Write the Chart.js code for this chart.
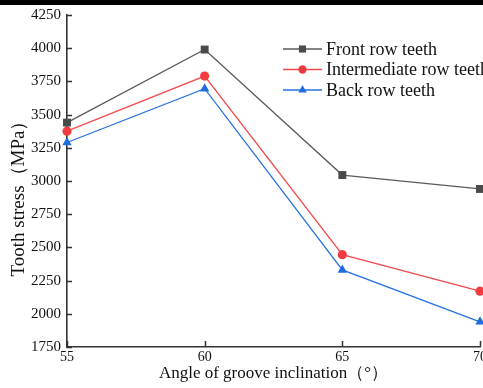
<!DOCTYPE html>
<html>
<head>
<meta charset="utf-8">
<script src="https://cdn.jsdelivr.net/npm/chart.js@4.4.0/dist/chart.umd.min.js"></script>
<style>
  html, body { margin: 0; padding: 0; background: #fff; }
  #wrap { position: relative; width: 483px; height: 388px; overflow: hidden; }
  #band { position: absolute; left: 0; top: 0; width: 483px; height: 5px; background: #000; }
  canvas { display: block; }
</style>
</head>
<body>
<div id="wrap">
  <canvas id="stressChart" width="530" height="388"></canvas>
  <div id="band"></div>
</div>
<script>
// groove inclination angle (deg) and tooth stress (MPa) per row
const angles = [55, 60, 65, 70];
const frontRow = [3440, 3990, 3045, 2940];
const middleRow = [3375, 3790, 2445, 2170];
const backRow = [3290, 3695, 2330, 1940];
const seriesNames = ['Front row teeth', 'Intermediate row teeth', 'Back row teeth'];
const xTitle = 'Angle of groove inclination（°）';
const yTitle = 'Tooth stress（MPa）';

const serif = 'Liberation Serif, Times New Roman, serif';
const axisColor = '#333';

function pairs(values) {
  return angles.map((a, i) => ({ x: a, y: values[i] }));
}

// tick marks pointing into the plot
const innerTicks = {
  id: 'innerTicks',
  beforeDatasetsDraw(chart) {
    const { ctx, chartArea, scales } = chart;
    ctx.save();
    ctx.strokeStyle = axisColor;
    ctx.lineWidth = 1.5;
    ctx.beginPath();
    scales.y.ticks.forEach(t => {
      const py = Math.round(scales.y.getPixelForValue(t.value)) + 0.5;
      ctx.moveTo(chartArea.left, py);
      ctx.lineTo(chartArea.left + 5, py);
    });
    scales.x.ticks.forEach(t => {
      const px = Math.round(scales.x.getPixelForValue(t.value)) + 0.5;
      ctx.moveTo(px, chartArea.bottom);
      ctx.lineTo(px, chartArea.bottom - 6);
    });
    ctx.stroke();
    ctx.restore();
  }
};

// vertical axis title, sitting a bit below the middle of the plot
const sideTitle = {
  id: 'sideTitle',
  afterDraw(chart) {
    const { ctx, chartArea } = chart;
    ctx.save();
    ctx.translate(19, (chartArea.top + chartArea.bottom) / 2 + 13);
    ctx.rotate(-Math.PI / 2);
    ctx.font = '19px ' + serif;
    ctx.fillStyle = '#111';
    ctx.textAlign = 'center';
    ctx.textBaseline = 'middle';
    ctx.fillText(yTitle, 0, 0);
    ctx.restore();
  }
};

// legend with a short line through each marker
const lineLegend = {
  id: 'lineLegend',
  afterDraw(chart) {
    const { ctx, chartArea } = chart;
    const x0 = chartArea.left + 216;
    const y0 = chartArea.top + 34;
    ctx.save();
    ctx.font = '18px ' + serif;
    ctx.textBaseline = 'middle';
    chart.data.datasets.forEach((ds, i) => {
      const y = y0 + i * 20.5;
      ctx.strokeStyle = ds.borderColor;
      ctx.lineWidth = 1.3;
      ctx.beginPath();
      ctx.moveTo(x0, y);
      ctx.lineTo(x0 + 39, y);
      ctx.stroke();
      ctx.fillStyle = ds.pointBackgroundColor;
      Chart.helpers.drawPoint(ctx, {
        pointStyle: ds.pointStyle, rotation: 0,
        radius: ds.pointRadius * 0.9, borderWidth: 0
      }, x0 + 19.5, y);
      ctx.fillStyle = '#111';
      ctx.fillText(ds.label, x0 + 43, y + 1);
    });
    ctx.restore();
  }
};

function series(label, data, line, marker, style, radius) {
  return {
    label,
    data: pairs(data),
    borderColor: line,
    backgroundColor: marker,
    pointBackgroundColor: marker,
    pointBorderWidth: 0,
    pointStyle: style,
    pointRadius: radius,
    borderWidth: 1.3,
    tension: 0,
    clip: false
  };
}

new Chart(document.getElementById('stressChart'), {
  type: 'line',
  data: {
    datasets: [
      series(seriesNames[0], frontRow, '#5a5a5a', '#4a4a4a', 'rect', 5.6),
      series(seriesNames[1], middleRow, '#f24a4d', '#f03c40', 'circle', 4.6),
      series(seriesNames[2], backRow, '#2472e2', '#1f6be0', 'triangle', 5.4)
    ]
  },
  options: {
    responsive: false,
    animation: false,
    events: [],
    layout: { padding: { top: 15, right: 50, left: 0, bottom: 0 } },
    plugins: { legend: { display: false }, tooltip: { enabled: false } },
    scales: {
      x: {
        type: 'linear',
        min: 55, max: 70,
        afterFit(scale) { scale.height = 41; },
        ticks: {
          stepSize: 5, padding: 2, color: '#111',
          font: { family: serif, size: 14 },
          callback: v => String(v)
        },
        grid: { drawOnChartArea: false, drawTicks: false },
        border: { color: axisColor, width: 1.6 },
        title: {
          display: true,
          text: xTitle,
          color: '#111',
          font: { family: serif, size: 17 },
          padding: { top: 0, bottom: 4 }
        }
      },
      y: {
        min: 1750, max: 4250,
        afterFit(scale) { scale.width = 67; },
        ticks: {
          stepSize: 250, padding: 6, color: '#111',
          font: { family: serif, size: 15 },
          callback: v => String(v)
        },
        grid: { drawOnChartArea: false, drawTicks: false },
        border: { color: axisColor, width: 1.6 }
      }
    }
  },
  plugins: [innerTicks, sideTitle, lineLegend]
});
</script>
</body>
</html>
